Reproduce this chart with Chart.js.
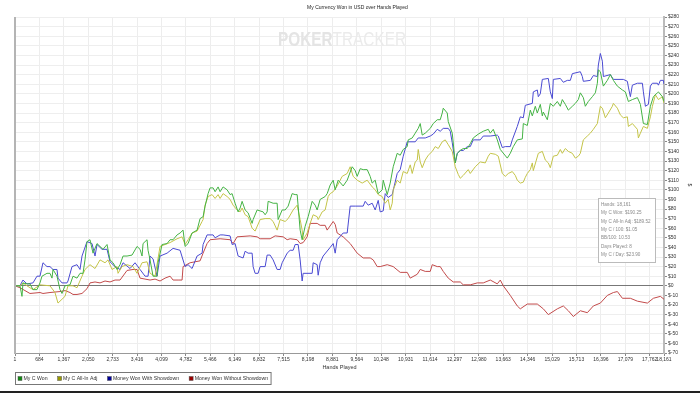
<!DOCTYPE html>
<html>
<head>
<meta charset="utf-8">
<script src="https://cdn.jsdelivr.net/npm/chart.js@4.4.1/dist/chart.umd.min.js"></script>
<style>
  html, body { margin: 0; padding: 0; background: #fff; }
  canvas { display: block; }
</style>
</head>
<body>
<canvas id="handsChart" width="700" height="393"></canvas>
<script>
// hands played (x) and cumulative $ (y)
const wonHands = [
  1,140,196,224,336,420,504,616,700,756,
  896,980,1036,1064,1176,1260,1316,1400,1540,1624,
  1736,1820,1904,1960,2016,2100,2184,2296,2380,2464,
  2576,2660,2744,2856,2940,3024,3136,3276,3416,3500,
  3556,3584,3696,3724,3780,3864,3976,4004,4116,4256,
  4340,4424,4536,4620,4704,4760,4844,4956,5096,5180,
  5264,5320,5404,5460,5544,5600,5684,5740,5824,5936,
  6020,6076,6160,6244,6300,6356,6440,6524,6636,6664,
  6776,6944,7000,7056,7084,7224,7336,7364,7476,7560,
  7644,7756,7840,7896,7924,7980,8036,8120,8204,8316,
  8400,8456,8540,8680,8736,8820,8904,8960,9044,9184,
  9296,9436,9520,9576,9660,9744,9856,9940,9996,10080,
  10164,10276,10304,10416,10500,10584,10696,10780,10864,10976,
  11004,11116,11200,11284,11340,11396,11480,11620,11704,11816,
  11900,11956,11984,12096,12124,12236,12320,12376,12460,12544,
  12656,12740,12824,12964,13104,13244,13300,13384,13496,13580,
  13776,13860,13944,14056,14196,14224,14336,14420,14476,14560,
  14616,14700,14756,14784,14896,14980,15064,15176,15260,15316,
  15400,15484,15596,15680,15764,15820,15904,15960,16044,16156,
  16240,16296,16324,16380,16464,16576,16660,16744,16856,16996,
  17080,17164,17276,17416,17500,17584,17696,17780,17864,17976,
  18004,18116,18161
];
const wonValues = [
  0,0,-11,3,2,2,-4,-4,3,10,
  13,13,8,17,10,-4,-8,0,1,10,
  8,13,13,27,46,48,34,44,41,38,
  43,27,24,17,22,31,31,32,41,38,
  31,44,48,37,27,10,10,24,43,44,
  48,48,53,55,58,41,44,55,58,70,
  72,83,96,102,102,98,103,98,103,100,
  95,96,86,77,81,88,79,76,65,69,
  79,77,74,77,88,86,86,69,79,79,
  83,96,95,95,83,58,48,62,72,88,
  84,79,90,93,96,105,110,100,110,104,
  110,124,120,114,122,121,121,114,107,110,
  96,100,110,95,107,124,138,136,142,145,
  152,154,159,164,169,157,159,164,169,173,
  173,180,185,180,171,159,128,138,141,143,
  143,148,154,158,161,163,159,163,152,142,
  133,138,145,152,153,169,167,183,177,187,
  180,189,177,181,173,190,187,192,187,194,
  189,183,187,190,194,201,196,187,192,197,
  201,211,225,223,208,214,220,214,208,204,
  202,192,194,196,189,169,168,187,197,201,
  202,197,192
];

const allInHands = [
  1,140,224,336,504,700,980,1120,1204,1316,
  1400,1484,1624,1736,1876,1960,2100,2240,2380,2520,
  2604,2716,2856,2884,2996,3136,3304,3416,3556,3696,
  3780,3920,4060,4200,4340,4536,4676,4760,4844,4956,
  5096,5236,5264,5320,5404,5516,5600,5684,5740,5824,
  5936,6020,6104,6216,6300,6356,6440,6524,6636,6720,
  6860,7000,7140,7224,7336,7420,7560,7644,7784,7896,
  7980,8036,8064,8176,8260,8344,8456,8484,8596,8680,
  8764,8820,8904,9016,9156,9296,9380,9464,9576,9716,
  9856,9996,10080,10164,10276,10360,10444,10500,10556,10584,
  10696,10780,10864,10976,11060,11116,11200,11256,11284,11340,
  11396,11480,11564,11676,11760,11844,11956,12040,12124,12236,
  12320,12404,12460,12544,12684,12740,12880,13020,13160,13244,
  13300,13440,13524,13636,13720,13804,13916,14000,14056,14140,
  14224,14280,14336,14420,14476,14504,14644,14756,14840,14924,
  14980,15064,15176,15260,15316,15400,15484,15596,15680,15764,
  15820,15904,16016,16100,16184,16296,16380,16436,16520,16604,
  16716,16744,16856,16940,17024,17136,17164,17276,17416,17444,
  17500,17584,17696,17780,17836,17920,18004,18116,18161
];
const allInValues = [
  0,0,3,0,-4,1,0,-7,-18,-14,
  -11,0,0,-2,10,17,22,18,27,24,
  27,17,20,13,20,22,20,13,24,25,
  13,10,41,43,45,49,51,43,48,55,
  57,67,69,84,93,95,91,95,91,96,
  93,90,84,79,77,81,74,72,60,57,
  69,70,70,67,58,69,67,70,79,84,
  69,58,48,55,65,74,72,69,77,79,
  93,96,98,104,114,117,124,114,110,107,
  110,103,100,95,93,86,90,79,86,100,
  110,107,119,117,126,117,129,131,142,129,
  123,131,136,140,145,143,150,152,147,140,
  124,116,112,115,121,117,124,129,128,135,
  138,137,135,117,114,117,119,115,110,107,
  108,113,117,121,128,120,138,140,131,128,
  123,135,136,142,138,143,140,138,133,135,
  138,152,156,159,163,169,187,185,175,180,
  187,190,185,178,175,176,166,169,163,154,
  159,166,164,176,187,199,194,197,190
];

const showdownHands = [
  1,140,224,336,504,616,700,784,896,980,
  1064,1176,1204,1316,1456,1484,1596,1736,1820,1876,
  2016,2156,2240,2296,2436,2576,2660,2800,2940,3024,
  3220,3360,3500,3640,3724,3780,3864,3976,4060,4256,
  4424,4620,4760,4844,4956,5096,5236,5264,5376,5544,
  5600,5740,5824,6020,6076,6160,6244,6384,6440,6524,
  6636,6664,6720,6804,6860,7000,7056,7140,7224,7336,
  7420,7476,7616,7700,7784,7840,7924,7980,8036,8064,
  8316,8344,8456,8484,8540,8624,8820,8904,8960,9016,
  9184,9296,9380,9520,9744,9800,9884,9996,10080,10164,
  10220,10304,10360,10444,10556,10696,10780,10864,10976,11200,
  11284,11480,11620,11704,11816,11900,11984,12124,12180,12236,
  12320,12376,12460,12544,12656,12740,12824,13020,13104,13300,
  13496,13524,13636,13720,13860,13916,14056,14140,14224,14280,
  14476,14504,14616,14644,14700,14756,14924,14980,15036,15064,
  15260,15344,15456,15540,15596,15820,15876,15904,16100,16184,
  16296,16324,16380,16436,16464,16660,16744,17024,17136,17164,
  17220,17276,17416,17556,17584,17640,17724,17780,17836,17976,
  18004,18060,18144,18161
];
const showdownValues = [
  0,0,6,2,3,10,10,24,20,20,
  17,17,8,3,3,5,20,22,17,31,
  46,44,31,43,38,38,25,20,17,24,
  18,24,17,10,10,31,28,10,31,34,
  39,37,20,22,18,31,34,43,53,53,
  50,53,53,52,43,44,31,29,36,34,
  34,20,13,13,20,20,32,32,27,17,
  17,24,34,37,37,43,43,27,5,13,
  13,24,22,11,24,31,40,44,34,48,
  55,55,83,83,83,88,84,86,79,89,
  77,78,96,92,95,117,121,135,150,150,
  154,154,156,158,163,161,164,164,161,149,
  128,138,141,141,145,145,152,152,156,156,
  157,156,144,145,145,152,166,176,175,188,
  190,202,204,197,200,215,216,202,195,215,
  216,212,214,214,221,223,218,213,214,219,
  218,230,242,234,218,220,215,215,213,207,
  197,209,211,211,202,187,189,208,211,211,
  209,214,214,210
];

const noShowdownHands = [
  1,140,280,420,700,784,980,1260,1400,1540,
  1624,1736,1876,2016,2100,2240,2380,2520,2660,2800,
  2940,3136,3304,3416,3500,3640,3780,3920,4060,4200,
  4340,4424,4564,4676,4704,4900,5180,5264,5376,5460,
  5740,6020,6104,6216,6580,6776,6860,7140,7280,7504,
  7616,7700,7896,7980,8064,8176,8260,8456,8540,8680,
  8736,8904,8960,9016,9184,9380,9576,9744,9940,10024,
  10136,10220,10416,10584,10780,10976,11060,11256,11340,11480,
  11620,11676,11816,11900,11984,12124,12264,12460,12544,12740,
  12936,13104,13300,13496,13580,13664,13860,14056,14140,14336,
  14616,14784,14924,15176,15344,15484,15624,15820,16016,16184,
  16380,16576,16744,16856,16996,17220,17416,17696,17864,18060,
  18161
];
const noShowdownValues = [
  0,-2,-5,-8,-7,-8,-7,-6,-5,-7,
  -9,-9,-8,-3,3,4,3,5,4,6,
  6,16,17,17,8,7,6,7,5,8,
  10,6,6,6,20,24,26,34,44,48,
  49,48,44,51,52,51,49,49,52,51,
  48,49,48,44,45,51,65,65,63,63,
  58,67,64,55,51,44,34,29,29,27,
  20,20,22,20,14,14,8,12,17,15,
  15,22,20,20,15,8,4,4,1,1,
  3,3,6,2,6,0,-10,-21,-24,-19,
  -19,-24,-30,-24,-21,-26,-32,-26,-28,-21,
  -18,-10,-7,-6,-13,-13,-16,-18,-13,-11,
  -14
];

const seriesNames = ['My C Won', 'My C All-In Adj', 'Money Won With Showdown', 'Money Won Without Showdown'];
const lineColors = ['#44b344', '#c4c448', '#4a4ad2', '#c24a4a'];
const legendColors = ['#118811', '#999900', '#000099', '#990000'];

const handTicks = [1,684,1367,2050,2733,3416,4099,4782,5466,6149,6832,7515,8198,8881,9564,
  10248,10931,11614,12297,12980,13663,14346,15029,15713,16396,17079,17762,18161];

const statsLines = ['Hands: 18,161', 'My C Won: $190.25', 'My C All-In Adj: $189.52',
  'My C / 100: $1.05', 'BB/100: 10.53', 'Days Played: 8', 'My C / Day: $23.90'];

function toPoints(hands, values) {
     return hands.map((h, i) => ({ x: h, y: values[i] }));
}

Chart.defaults.font.family = '"Liberation Sans", Arial, sans-serif';
Chart.defaults.color = '#333';

// watermark, left frame, stats box, legend box, bottom edge
const extras = {
     id: 'extras',
     beforeDatasetsDraw(chart) {
          const ctx = chart.ctx;
          ctx.save();
          const boldFont = 'bold 22px "Liberation Sans Narrow", "Liberation Sans", sans-serif';
          const thinFont = '22px "Liberation Sans Narrow", "Liberation Sans", sans-serif';
          ctx.font = boldFont;
          const w1 = ctx.measureText('POKER').width;
          ctx.font = thinFont;
          const w2 = ctx.measureText('TRACKER').width;
          const sx = 128 / (w1 + w2);
          ctx.translate(278, 46);
          ctx.scale(sx, 0.95);
          ctx.textBaseline = 'alphabetic';
          ctx.font = boldFont;
          ctx.fillStyle = '#e4e4e4';
          ctx.fillText('POKER', 0, 0);
          ctx.font = thinFont;
          ctx.fillStyle = '#ebebeb';
          ctx.fillText('TRACKER', w1, 0);
          ctx.restore();
     },
     afterDraw(chart) {
          const ctx = chart.ctx;
          const area = chart.chartArea;
          ctx.save();

          // left frame
          ctx.fillStyle = '#b4b4b4';
          ctx.fillRect(area.left - 1, area.top, 2, area.bottom - area.top + 1);

          // stats box
          ctx.fillStyle = '#ffffff';
          ctx.fillRect(598, 198, 58, 64);
          ctx.strokeStyle = '#bbbbbb';
          ctx.lineWidth = 1;
          ctx.strokeRect(598.5, 198.5, 57, 64);
          ctx.font = '4.6px "Liberation Sans", Arial, sans-serif';
          ctx.fillStyle = '#8a8a8a';
          ctx.textBaseline = 'middle';
          statsLines.forEach((line, i) => {
               ctx.fillText(line, 601, 204.5 + i * 8.4);
          });

          // legend
          ctx.font = '5.2px "Liberation Sans", Arial, sans-serif';
          let x = 18;
          const y = 378.5;
          seriesNames.forEach((name, i) => {
               ctx.fillStyle = legendColors[i];
               ctx.fillRect(x, y - 2, 4, 4);
               ctx.strokeStyle = '#555';
               ctx.lineWidth = 0.5;
               ctx.strokeRect(x, y - 2, 4, 4);
               ctx.fillStyle = '#333';
               ctx.fillText(name, x + 5.5, y);
               x += 5.5 + ctx.measureText(name).width + 10;
          });
          ctx.strokeStyle = '#777';
          ctx.lineWidth = 1;
          ctx.strokeRect(15.5, 372.5, x - 10 + 3 - 15.5, 12);

          // dark bottom edge
          ctx.fillStyle = '#222';
          ctx.fillRect(0, 391, 700, 2);
          ctx.restore();
     }
};

const chartData = {
     datasets: [
          { label: seriesNames[0], data: toPoints(wonHands, wonValues), borderColor: lineColors[0] },
          { label: seriesNames[1], data: toPoints(allInHands, allInValues), borderColor: lineColors[1] },
          { label: seriesNames[2], data: toPoints(showdownHands, showdownValues), borderColor: lineColors[2] },
          { label: seriesNames[3], data: toPoints(noShowdownHands, noShowdownValues), borderColor: lineColors[3] }
     ]
};

const ctx = document.getElementById('handsChart').getContext('2d');
window.handsChartInstance = new Chart(ctx, {
     type: 'line',
     data: chartData,
     plugins: [extras],
     options: {
          responsive: false,
          devicePixelRatio: 1,
          animation: false,
          layout: { padding: { left: 15, right: 0, top: 0, bottom: 22 } },
          elements: {
               point: { radius: 0 },
               line: { borderWidth: 1, tension: 0 }
          },
          plugins: {
               legend: { display: false },
               tooltip: { enabled: false },
               title: {
                    display: true,
                    text: 'My Currency Won in USD over Hands Played',
                    font: { size: 5, weight: 'normal' },
                    color: '#222',
                    padding: { top: 5, bottom: 6 }
               }
          },
          scales: {
               x: {
                    type: 'linear',
                    min: 1,
                    max: 18161,
                    afterBuildTicks: (scale) => { scale.ticks = handTicks.map(v => ({ value: v })); },
                    afterFit: (scale) => { scale.height = 18; },
                    ticks: {
                         autoSkip: false,
                         maxRotation: 0,
                         padding: 1,
                         font: { size: 5 },
                         color: '#333',
                         callback: (v) => Number(v).toLocaleString('en-US')
                    },
                    grid: { color: '#ededed', tickColor: '#888', tickLength: 3 },
                    border: { color: '#999', width: 1 },
                    title: {
                         display: true,
                         text: 'Hands Played',
                         font: { size: 5.5 },
                         color: '#333',
                         padding: { top: 0, bottom: 0 }
                    }
               },
               y: {
                    position: 'right',
                    min: -70,
                    max: 280,
                    afterFit: (scale) => { scale.width = 36; },
                    ticks: {
                         stepSize: 10,
                         maxTicksLimit: 60,
                         padding: 1,
                         font: { size: 5 },
                         color: '#333',
                         callback: (v) => '$' + v
                    },
                    grid: {
                         color: (c) => (c.tick && c.tick.value === 0 ? '#777' : '#eeeeee'),
                         tickColor: '#888',
                         tickLength: 3
                    },
                    border: { color: '#bbbbbb', width: 2 },
                    title: {
                         display: true,
                         text: '$',
                         font: { size: 5 },
                         color: '#333',
                         padding: { top: 8, bottom: 0 }
                    }
               }
          }
     }
});
</script>
</body>
</html>
